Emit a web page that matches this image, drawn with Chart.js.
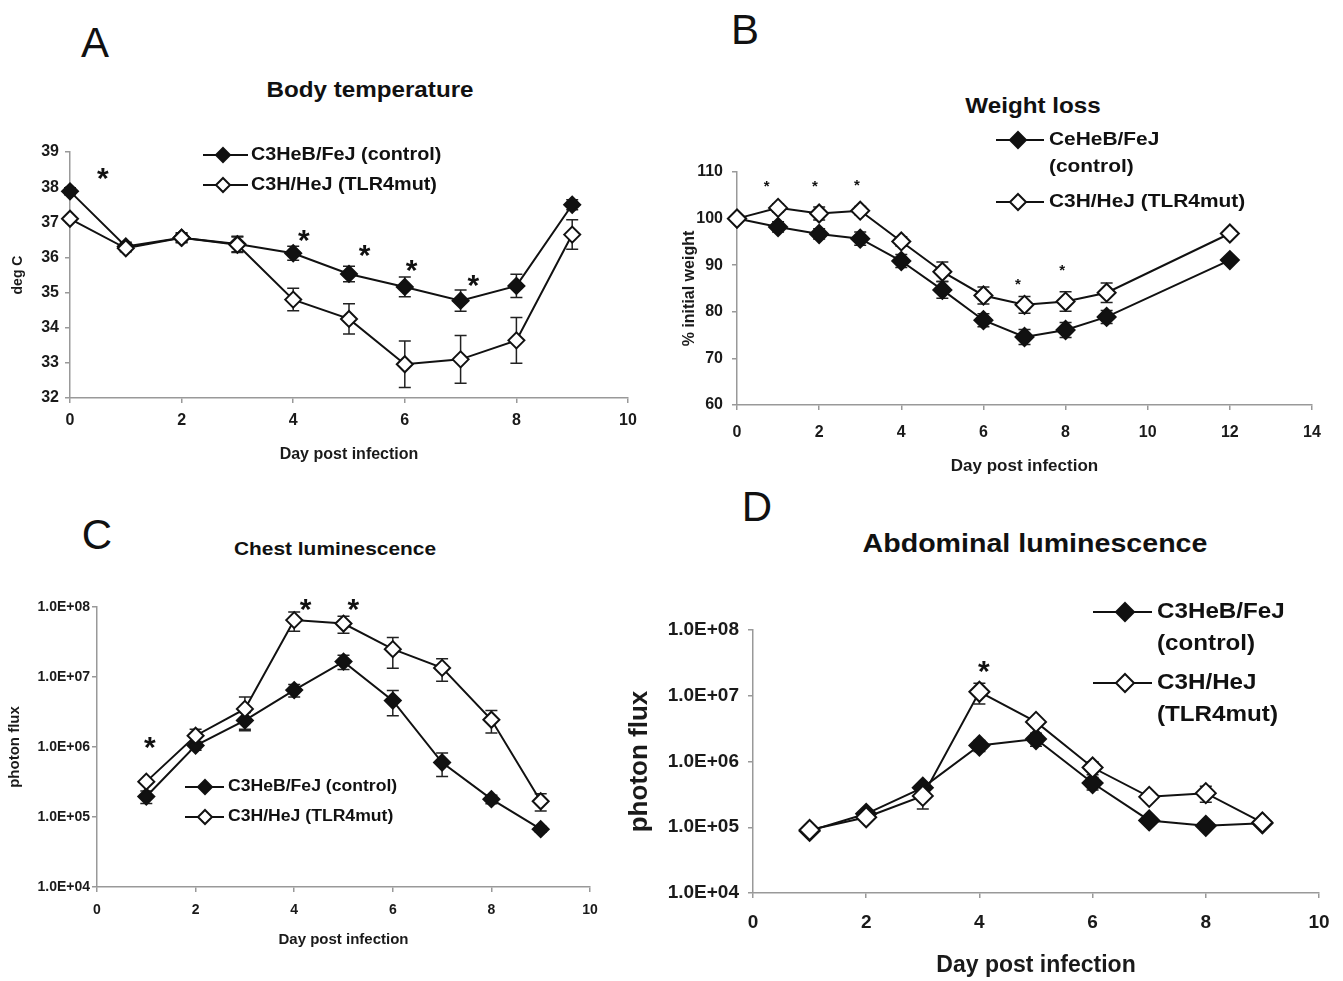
<!DOCTYPE html>
<html>
<head>
<meta charset="utf-8">
<script src="https://cdn.jsdelivr.net/npm/chart.js@4.4.1/dist/chart.umd.min.js"></script>
<style>
body { margin: 0; background: #fff; width: 1343px; height: 981px; position: relative; overflow: hidden; font-family: "Liberation Sans", Arial, sans-serif; color: #111; }
canvas { position: absolute; }
.letter { position: absolute; font-size: 42px; line-height: 1; transform: translate(-50%, -50%); }
.title { position: absolute; font-weight: bold; white-space: nowrap; line-height: 1; transform: translate(-50%, -50%) scaleX(1.1); }
</style>
</head>
<body>
<div class="letter" style="left:95px;top:43px">A</div>
<div class="letter" style="left:745px;top:30px">B</div>
<div class="letter" style="left:97px;top:535px">C</div>
<div class="letter" style="left:757px;top:507px">D</div>
<div class="title" style="left:370px;top:90px;font-size:22px">Body temperature</div>
<div class="title" style="left:1033px;top:106px;font-size:22px">Weight loss</div>
<div class="title" style="left:335px;top:548px;font-size:19px">Chest luminescence</div>
<div class="title" style="left:1035px;top:543px;font-size:26px">Abdominal luminescence</div>
<canvas id="chartA"></canvas>
<canvas id="chartB"></canvas>
<canvas id="chartC"></canvas>
<canvas id="chartD"></canvas>
<script>
// A - body temperature
const tempDays = [0, 1, 2, 3, 4, 5, 6, 7, 8, 9];
const tempControl = [37.88, 36.31, 36.56, 36.38, 36.12, 35.53, 35.16, 34.77, 35.19, 37.5];
const tempControlErr = [0.1, 0.12, 0.12, 0.22, 0.2, 0.22, 0.28, 0.3, 0.33, 0.14];
const tempMutant = [37.1, 36.26, 36.56, 36.36, 34.8, 34.25, 32.96, 33.1, 33.64, 36.65];
const tempMutantErr = [0.04, 0.1, 0.14, 0.22, 0.32, 0.43, 0.66, 0.68, 0.65, 0.42];
const tempStarDays = [0.59, 4.19, 5.28, 6.12, 7.23];
const tempStarVals = [38.4, 36.64, 36.22, 35.8, 35.37];

// B - weight loss
const weightDays = [0, 1, 2, 3, 4, 5, 6, 7, 8, 9, 12];
const weightControl = [100, 98.2, 96.7, 95.7, 90.9, 84.7, 78.2, 74.6, 76.1, 78.9, 91.1];
const weightControlErr = [0, 1.1, 1.1, 1.4, 1.4, 1.8, 1.4, 1.6, 1.6, 1.4, 0.5];
const weightMutant = [100, 102.3, 101.1, 101.7, 95.1, 88.6, 83.5, 81.5, 82.2, 84.1, 96.8];
const weightMutantErr = [0, 0.9, 1.4, 0.9, 1.0, 2.1, 1.8, 1.8, 2.1, 2.1, 0.5];
const weightStarDays = [0.72, 1.9, 2.92, 6.84, 7.92];
const weightStarVals = [107.5, 107.5, 107.8, 86.6, 89.6];

// C - chest luminescence
const chestDays = [1, 2, 3, 4, 5, 6, 7, 8, 9];
const chestControl = [1.96e5, 1.05e6, 2.4e6, 6.5e6, 1.66e7, 4.6e6, 6.0e5, 1.8e5, 6.7e4];
const chestControlErr = [4e4, 1.5e5, 7e5, 1.3e6, 3.8e6, 1.8e6, 2.2e5, 2.5e4, 6e3];
const chestMutant = [3.2e5, 1.45e6, 3.5e6, 6.5e7, 5.8e7, 2.5e7, 1.35e7, 2.45e6, 1.68e5];
const chestMutantErr = [2e4, 3.5e5, 1.7e6, 2e7, 1.6e7, 1.17e7, 4.8e6, 8.7e5, 4.6e4];
const chestStarDays = [1.07, 4.23, 5.2];
const chestStarVals = [1.17e6, 1.12e8, 1.12e8];

// D - abdominal luminescence
const abdDays = [1, 2, 3, 4, 5, 6, 7, 8, 9];
const abdControl = [8.8e4, 1.6e5, 4.0e5, 1.75e6, 2.2e6, 4.7e5, 1.27e5, 1.05e5, 1.15e5];
const abdControlErr = [5e3, 1e4, 5e4, 3.3e5, 5e5, 1e5, 1.5e4, 1e4, 5e3];
const abdMutant = [9.1e4, 1.42e5, 3.0e5, 1.15e7, 4.0e6, 8.1e5, 2.9e5, 3.3e5, 1.18e5];
const abdMutantErr = [5e3, 1e4, 1.1e5, 4e6, 6e5, 1.8e5, 4e4, 9e4, 5e3];
const abdStarDays = [4.08];
const abdStarVals = [2.9e7];

const logTicks = [1e4, 1e5, 1e6, 1e7, 1e8];
const logTickLabels = ['1.0E+04', '1.0E+05', '1.0E+06', '1.0E+07', '1.0E+08'];

const controlLabel = 'C3HeB/FeJ (control)';
const mutantLabel = 'C3H/HeJ (TLR4mut)';

Chart.defaults.font.family = '"Liberation Sans", Arial, sans-serif';
Chart.defaults.font.weight = 'bold';
Chart.defaults.color = '#1a1a1a';
Chart.defaults.animation = false;

function series(days, vals, errs, filled, r, order) {
    return {
        data: days.map((d, i) => ({x: d, y: vals[i]})),
        errors: errs,
        borderColor: '#111',
        borderWidth: 2,
        pointStyle: 'rectRot',
        pointRadius: r,
        pointBorderWidth: 2,
        pointBackgroundColor: filled ? '#111' : '#fff',
        pointBorderColor: '#111',
        tension: 0,
        clip: false,
        order: order
    };
}

const errorBarPlugin = {
    id: 'errorBars',
    beforeDatasetsDraw(chart) {
        const ctx = chart.ctx, xs = chart.scales.x, ys = chart.scales.y;
        ctx.save();
        ctx.strokeStyle = '#222';
        ctx.lineWidth = 1.5;
        chart.data.datasets.forEach((ds) => {
            ds.data.forEach((pt, i) => {
                const e = ds.errors[i];
                if (!e) return;
                const x = xs.getPixelForValue(pt.x);
                const hi = ys.getPixelForValue(pt.y + e);
                const lo = ys.getPixelForValue(Math.max(pt.y - e, pt.y * 0.05));
                ctx.beginPath();
                ctx.moveTo(x, hi); ctx.lineTo(x, lo);
                ctx.moveTo(x - 6, hi); ctx.lineTo(x + 6, hi);
                ctx.moveTo(x - 6, lo); ctx.lineTo(x + 6, lo);
                ctx.stroke();
            });
        });
        ctx.restore();
    }
};

function diamond(ctx, x, y, r, filled) {
    ctx.beginPath();
    ctx.moveTo(x, y - r); ctx.lineTo(x + r, y); ctx.lineTo(x, y + r); ctx.lineTo(x - r, y);
    ctx.closePath();
    ctx.fillStyle = filled ? '#111' : '#fff';
    ctx.fill();
    ctx.lineWidth = 2;
    ctx.strokeStyle = '#111';
    ctx.stroke();
}

function makePanel(p) {
    const canvas = document.getElementById(p.id);
    const box = p.box, area = p.area;
    canvas.width = box.width;
    canvas.height = box.height;
    canvas.style.left = box.left + 'px';
    canvas.style.top = box.top + 'px';

    const padL = p.yTitle.x - box.left - 4 - 0.6 * p.yTitle.size;
    const yWidth = area.left - box.left - padL;
    const xBottom = p.xTitle.y + 4 + 0.6 * p.xTitle.size;
    const padB = box.top + box.height - xBottom;
    const xHeight = xBottom - area.bottom;

    const legendPlugin = {
        id: 'panelLegend',
        afterDraw(chart) {
            const ctx = chart.ctx, lg = p.legend;
            ctx.save();
            ctx.translate(-box.left, -box.top);
            lg.items.forEach((it) => {
                ctx.strokeStyle = '#111';
                ctx.lineWidth = 2;
                ctx.beginPath();
                ctx.moveTo(lg.x0, it.y); ctx.lineTo(lg.x1, it.y);
                ctx.stroke();
                diamond(ctx, lg.dx, it.y, lg.r, it.filled);
                ctx.fillStyle = '#111';
                ctx.font = 'bold ' + lg.size + 'px "Liberation Sans", Arial, sans-serif';
                ctx.textBaseline = 'middle';
                ctx.textAlign = 'left';
                it.lines.forEach((t, k) => {
                    ctx.save();
                    ctx.translate(lg.tx, it.y + k * lg.gap);
                    ctx.scale(1.1, 1);
                    ctx.fillText(t, 0, 0);
                    ctx.restore();
                });
            });
            ctx.restore();
        }
    };

    const starPlugin = {
        id: 'stars',
        afterDatasetsDraw(chart) {
            const ctx = chart.ctx, xs = chart.scales.x, ys = chart.scales.y;
            ctx.save();
            ctx.fillStyle = '#111';
            ctx.font = 'bold ' + p.starSize + 'px "Liberation Sans", Arial, sans-serif';
            ctx.textAlign = 'center';
            ctx.textBaseline = 'middle';
            p.starDays.forEach((d, i) => {
                ctx.fillText('*', xs.getPixelForValue(d), ys.getPixelForValue(p.starVals[i]) + 0.23 * p.starSize);
            });
            ctx.restore();
        }
    };

    const gridOpts = {display: true, drawOnChartArea: false, drawTicks: true, tickLength: 5, color: '#999', lineWidth: 1.5};
    const borderOpts = {display: true, color: '#999', width: 1.5};

    const yScale = p.log ? {
        type: 'logarithmic', min: 1e4, max: 1e8,
        afterBuildTicks: (s) => { s.ticks = logTicks.map((v) => ({value: v})); },
        ticks: {autoSkip: false, padding: p.yPad, font: {size: p.tickSize}, callback: (v, i) => logTickLabels[i]}
    } : {
        type: 'linear', min: p.yMin, max: p.yMax,
        ticks: {stepSize: p.yStep, padding: p.yPad, font: {size: p.tickSize}}
    };
    yScale.grid = gridOpts;
    yScale.border = borderOpts;
    yScale.title = {display: true, text: p.yTitle.text, font: {size: p.yTitle.size}, color: '#1a1a1a'};
    yScale.afterFit = (s) => { s.width = yWidth; };

    return new Chart(canvas, {
        type: 'line',
        data: {
            datasets: [
                series(p.days, p.control, p.controlErr, true, p.r, 1),
                series(p.days, p.mutant, p.mutantErr, false, p.r, 0)
            ]
        },
        options: {
            responsive: false,
            animation: false,
            layout: {padding: {left: padL, right: box.left + box.width - area.right, top: area.top - box.top, bottom: padB}},
            plugins: {legend: {display: false}, tooltip: {enabled: false}, title: {display: false}},
            scales: {
                x: {
                    type: 'linear', min: 0, max: p.xMax,
                    ticks: {stepSize: 2, padding: p.xPad, font: {size: p.tickSize}},
                    grid: gridOpts,
                    border: borderOpts,
                    title: {display: true, text: 'Day post infection', font: {size: p.xTitle.size}, color: '#1a1a1a'},
                    afterFit: (s) => { s.height = xHeight; }
                },
                y: yScale
            }
        },
        plugins: [errorBarPlugin, starPlugin, legendPlugin]
    });
}

makePanel({
    id: 'chartA',
    box: {left: 0, top: 60, width: 650, height: 420},
    area: {left: 70, right: 628, top: 152, bottom: 398},
    yTitle: {text: 'deg C', x: 18, size: 14},
    xTitle: {y: 455, size: 16},
    yMin: 32, yMax: 39, yStep: 1, xMax: 10,
    tickSize: 16, xPad: 8, yPad: 6, r: 8,
    days: tempDays, control: tempControl, controlErr: tempControlErr,
    mutant: tempMutant, mutantErr: tempMutantErr,
    starDays: tempStarDays, starVals: tempStarVals, starSize: 30,
    legend: {x0: 203, x1: 248, dx: 223, tx: 251, r: 7, size: 18, gap: 0, items: [
        {y: 155, filled: true, lines: [controlLabel]},
        {y: 185, filled: false, lines: [mutantLabel]}
    ]}
});

makePanel({
    id: 'chartB',
    box: {left: 670, top: 80, width: 673, height: 410},
    area: {left: 737, right: 1312, top: 172, bottom: 405},
    yTitle: {text: '% initial weight', x: 690, size: 16},
    xTitle: {y: 466, size: 17},
    yMin: 60, yMax: 110, yStep: 10, xMax: 14,
    tickSize: 16, xPad: 13, yPad: 9, r: 9,
    days: weightDays, control: weightControl, controlErr: weightControlErr,
    mutant: weightMutant, mutantErr: weightMutantErr,
    starDays: weightStarDays, starVals: weightStarVals, starSize: 15,
    legend: {x0: 996, x1: 1044, dx: 1018, tx: 1049, r: 8, size: 19, gap: 27, items: [
        {y: 140, filled: true, lines: ['CeHeB/FeJ', '(control)']},
        {y: 202, filled: false, lines: [mutantLabel]}
    ]}
});

makePanel({
    id: 'chartC',
    box: {left: 0, top: 520, width: 620, height: 450},
    area: {left: 97, right: 590, top: 607, bottom: 887},
    yTitle: {text: 'photon flux', x: 15, size: 15},
    xTitle: {y: 940, size: 15},
    log: true, xMax: 10,
    tickSize: 14, xPad: 10, yPad: 2, r: 8,
    days: chestDays, control: chestControl, controlErr: chestControlErr,
    mutant: chestMutant, mutantErr: chestMutantErr,
    starDays: chestStarDays, starVals: chestStarVals, starSize: 30,
    legend: {x0: 185, x1: 224, dx: 205, tx: 228, r: 7, size: 16, gap: 0, items: [
        {y: 787, filled: true, lines: [controlLabel]},
        {y: 817, filled: false, lines: [mutantLabel]}
    ]}
});

makePanel({
    id: 'chartD',
    box: {left: 620, top: 560, width: 723, height: 424},
    area: {left: 753, right: 1319, top: 630, bottom: 893},
    yTitle: {text: 'photon flux', x: 640, size: 26},
    xTitle: {y: 966, size: 23},
    log: true, xMax: 10,
    tickSize: 19, xPad: 13, yPad: 9, r: 10,
    days: abdDays, control: abdControl, controlErr: abdControlErr,
    mutant: abdMutant, mutantErr: abdMutantErr,
    starDays: abdStarDays, starVals: abdStarVals, starSize: 30,
    legend: {x0: 1093, x1: 1152, dx: 1125, tx: 1157, r: 9, size: 22, gap: 32, items: [
        {y: 612, filled: true, lines: ['C3HeB/FeJ', '(control)']},
        {y: 683, filled: false, lines: ['C3H/HeJ', '(TLR4mut)']}
    ]}
});
</script>
</body>
</html>
